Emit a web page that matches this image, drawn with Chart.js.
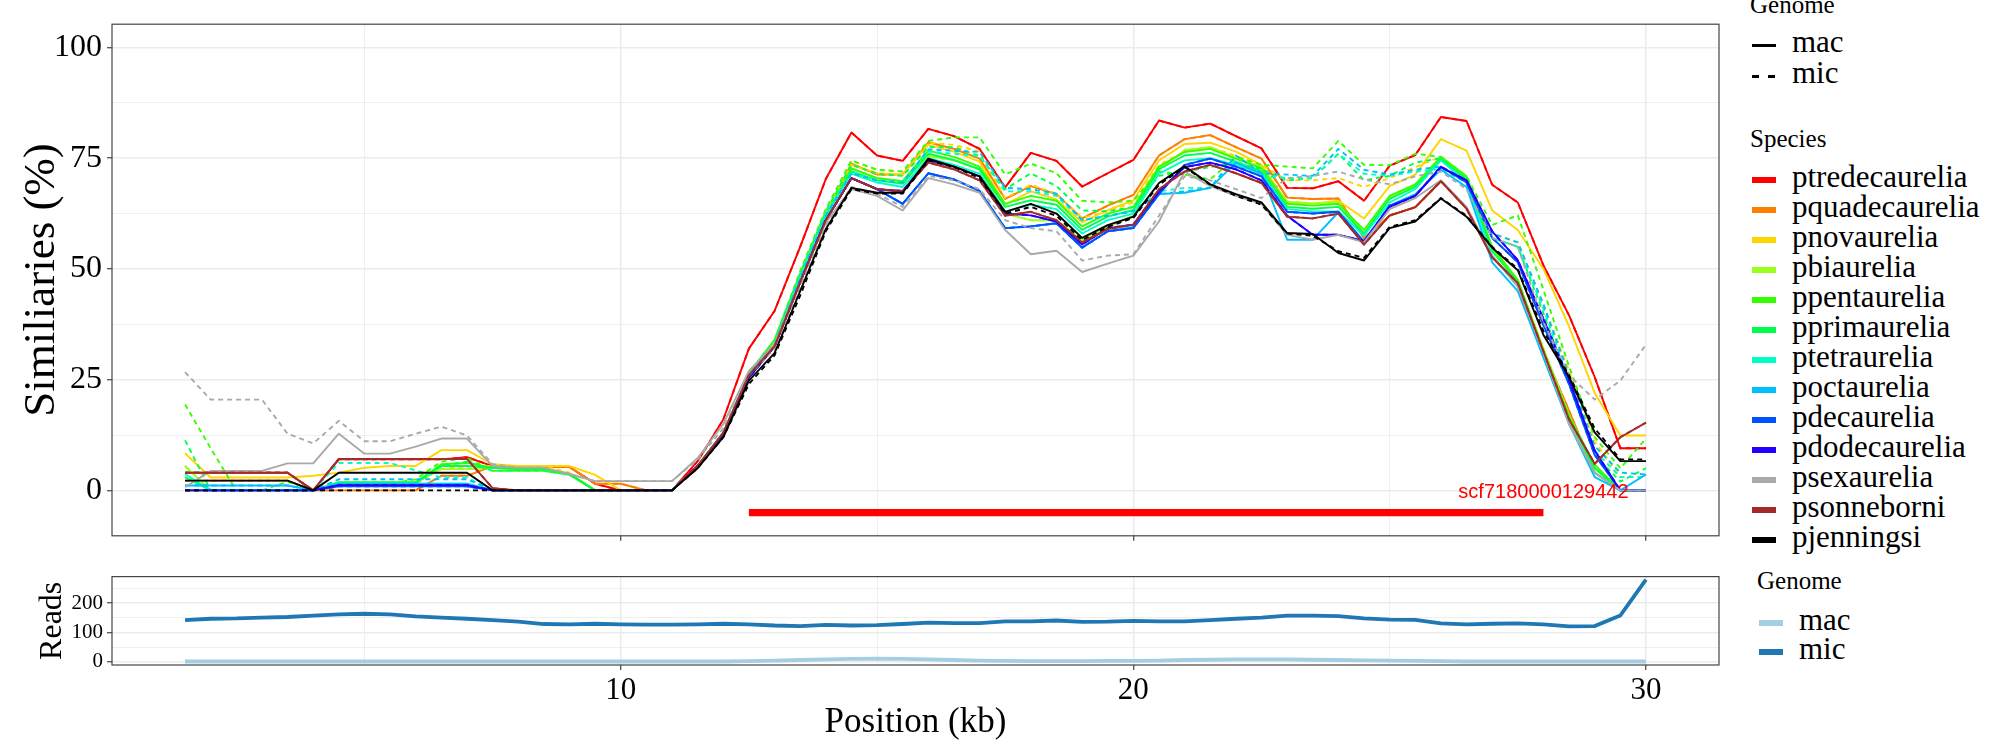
<!DOCTYPE html>
<html><head><meta charset="utf-8">
<script src="https://cdn.jsdelivr.net/npm/chart.js@4.4.1/dist/chart.umd.min.js"></script>
<style>
html,body{margin:0;padding:0;background:#fff;}
#wrap{position:relative;width:2000px;height:750px;overflow:hidden;background:#fff;font-family:'Liberation Serif','Times New Roman',serif;}
#top{position:absolute;left:0;top:0;}
#bot{position:absolute;left:0;top:560px;}
.lg{position:absolute;white-space:nowrap;line-height:1;color:#000;}
.key{position:absolute;}
</style></head><body>
<div id="wrap">
<canvas id="top" width="1740" height="560"></canvas>
<canvas id="bot" width="1740" height="190"></canvas>
<div id="legend"></div>
</div>
<script>
// ---------------- DATA ----------------
const positions = [1.5,2,2.5,3,3.5,4,4.5,5,5.5,6,6.5,7,7.5,8,8.5,9,9.5,10,10.5,11,
  11.5,12,12.5,13,13.5,14,14.5,15,15.5,16,16.5,17,17.5,18,18.5,19,19.5,20,20.5,21,
  21.5,22,22.5,23,23.5,24,24.5,25,25.5,26,26.5,27,27.5,28,28.5,29,29.5,30];

const species = ['ptredecaurelia','pquadecaurelia','pnovaurelia','pbiaurelia','ppentaurelia','pprimaurelia',
  'ptetraurelia','poctaurelia','pdecaurelia','pdodecaurelia','psexaurelia','psonneborni','pjenningsi'];
const speciesColors = ['#FF0000','#FF7F00','#FFD500','#9CFF1E','#33FF00','#00FF4C',
  '#00FFC4','#00BFFF','#0050FF','#2200FF','#A9A9A9','#A52A2A','#000000'];
const genomes = ['mac','mic'];

const ptredecaurelia_mac = [4,4,4,4,4,0,7,7,7,7, 7,7.5,5.5,5.3,5.3,5.3,1.5,0,0,0,
  6.6,16,32,40.5,55,70.3,80.8,75.6,74.4,81.6, 80,77.1,68.4,76.2,74.4,68.6,71.6,74.6,83.5,81.9,
  82.8,80,77.2,68.3,68.2,69.8,65.4,73.3,75.7,84.3, 83.4,69,65,50.8,39.5,25.6,9.5,9.5];
const pquadecaurelia_mac = [2.2,2.2,2.2,2.2,2.2,0,0,0,0,0, 3.3,3.3,5.5,5.3,5.3,5.3,1.5,1.5,0,0,
  5.5,13,26,33,48,62,73.8,71.3,71.3,78.6, 77.1,74.9,65.8,68.7,66.9,61.4,64.3,66.7,75.6,79.3,
  80.2,77.5,74.9,66.1,65.8,65.9,57,62,64,69.8, 63.6,52.6,46.8,31.4,18,4,0,0];
const pnovaurelia_mac = [8.4,2.9,2.9,2.9,2.9,3.3,4,5.1,5.5,5.5, 9.1,9.1,5.9,5.5,5.5,5.5,3.5,0,0,0,
  5.5,13,26,33,48,62,73.5,71.6,71.3,78, 76.5,74.2,64.5,67.5,65.7,60.5,63.3,65.5,74.5,78.2,
  78.5,76.5,73.5,65,64.7,65.4,61.4,68.7,71.3,79.3, 76.7,63.2,58.8,50,37,22,12.4,12.4];
const pbiaurelia_mac = [5.5,0,0,0,0,0,1.8,1.8,1.8,1.8, 4.8,4.8,5.1,4.8,4.8,3.7,0,0,0,0,
  5.5,13,26,33,48,62,72.7,70.5,69.8,75.5, 74.5,72.5,62.5,61,61,56.5,59.5,62,72.5,76.8,
  77.5,75,73,65.2,64.8,65,58,66,69,75.3, 70,55,47.5,32,17,5,0,0];
const ppentaurelia_mac = [0,0,0,0,0,0,1.8,1.8,1.8,1.8, 5.9,6.2,5.1,4.8,4.8,3.7,0,0,0,0,
  5.5,13,26,33,48,62,72.7,70.5,69.8,76.7, 75.3,73.1,64.7,66.5,65.4,59.6,62.5,64,73.1,76.4,
  77.1,74.9,72.7,64.7,64.3,64.7,58.8,66.5,69.1,75.3, 70.9,54.8,47.5,31.4,16.8,5.8,0,0];
const pprimaurelia_mac = [3,0,0,0,0,0,1.8,1.8,1.8,1.8, 5.5,5.5,5.1,4.8,4.8,3.7,0,0,0,0,
  5.5,13,26,33,48,62,72,70,69.2,76, 74.6,72.5,64,65.5,64.5,58.8,61.8,63.3,72.5,75.6,
  76.2,74.2,72,64,63.6,64,58,65.8,68.5,74.8, 70.3,54,47,31,16,5,0,0];
const ptetraurelia_mac = [3.7,0,0,0,0,0,1.5,1.5,1.5,1.5, 1.5,1.5,0,0,0,0,0,0,0,0,
  5.5,13,26,33,48,62,71.5,69.5,68.5,75, 73.5,71.5,63,64.5,63.5,58,61,62.5,71.5,74.5,
  75,73.5,71.5,63.5,63,63,57.5,65,68,74.5, 69.5,53,46,30,15,4,0,0];
const poctaurelia_mac = [1.1,1.1,1.1,1.1,1.1,0,1.5,1.5,1.5,1.5, 1.5,1.5,0,0,0,0,0,0,0,0,
  5.5,12.5,25.5,32.5,47,61,70.5,68,64.7,71.6, 70.2,67.6,59.2,59.6,60.3,54.8,58.5,59.5,66.9,67.2,
  68.3,74,71.5,56.6,56.6,62.8,56.3,64.3,66.9,72.4, 68.5,51.5,45,30,15,3,0,3.6];
const pdecaurelia_mac = [0,0,0,0,0,0,0.9,0.9,0.9,0.9, 0.9,0.9,0,0,0,0,0,0,0,0,
  5.5,12.5,25.5,32.5,47,61,70.5,68,64.7,71.6, 70.2,67.6,59.2,59.6,60.3,54.8,58.5,59.2,66.9,73.5,
  74.9,73.1,70.9,62.9,62.5,62.9,56,64.3,66.5,73.1, 69.5,57,51.5,37.3,24,8,0,0];
const pdodecaurelia_mac = [0,0,0,0,0,0,1.2,1.2,1.2,1.2, 1.2,1.2,0,0,0,0,0,0,0,0,
  5.5,12.5,25.5,32.5,47,61,70.5,68,67.6,74.5, 73.1,70.9,62.5,62.1,60.7,55.5,59.2,60,67.5,73,
  74,72.5,70,62,57.7,57.7,56.3,64,66.5,73, 70,58.5,52,38.7,25,9,0,0];
const psexaurelia_mac = [0.7,4.4,4.4,4.4,6.1,6.1,12.8,8.3,8.3,9.9, 11.7,11.7,5.5,5.1,5.1,3.7,2.1,2.1,2.1,2.1,
  7.3,15,27,33,47,60.5,68,66.5,63.2,70.5, 69.1,67.2,58.8,53.3,54.1,49.3,51.2,53,60.7,72,
  68.7,66.5,64.7,57.7,56.6,57.7,56,63.5,66,70, 64,53,46,31,15,4,0,0];
const psonneborni_mac = [4,4,4,4,4,0,7.1,7.1,7.1,7.1, 7.1,7.1,0.5,0,0,0,0,0,0,0,
  5.5,13,26,32.5,47,61,70.5,68,67.5,74, 72.5,70,62,62.9,61,56,59,60,68,72,
  73.5,71.6,69.4,61.8,61.4,62.5,55.5,62.1,63.9,69.8, 63.6,52.6,46.8,31.4,16,6,12,15.3];
const pjenningsi_mac = [2.2,2.2,2.2,2.2,2.2,0,4,4,4,4, 4,4,0,0,0,0,0,0,0,0,
  5,12,24.8,31,45,59,68.3,67.2,67.2,74.9, 73.1,70.9,62.9,64.7,62.5,57,59.9,61.8,69.4,73.2,
  69.1,66.9,65,58.1,57.9,53.6,51.9,59.2,60.7,65.9, 61.8,54.8,49.7,35.1,25.6,13.1,6.6,6.6];

const pnovaurelia_mic = [5.5,0,0,0,0,0,1.5,1.5,1.5,1.5, 4.8,5.5,5.5,5.5,5.5,4,0,0,0,0,
  5.5,13,26.5,33.5,49,63,74.4,72.4,72,78.5, 78,76.5,66,69,67,61.5,63,65,73.5,76.5,
  77.5,75.5,73.5,70,70,70.5,68.5,70.5,73,75.3, 70.5,58,56,42,27,11,3,3];
const ppentaurelia_mic = [19.4,9.5,0,0,2,0,1.5,1.5,1.5,2.5, 6.5,7.3,4.4,4.4,4.4,3.5,0,0,0,0,
  5.5,13,26.5,34,49.5,63.5,74.5,72.4,72,78.9, 79.7,79.7,71.3,73.8,71.6,65.4,65,65.4,72,71.3,
  70.2,75.3,73.5,73.1,72.7,78.9,73.5,73.4,76,75.3, 70.9,59.9,62.1,45.3,28,12,5,11.7];
const pprimaurelia_mic = [11.3,0,0,0,0,0,1.5,1.5,1.5,1.5, 5.5,6.5,4.4,4.4,4.4,3.5,0,0,0,0,
  5.5,13,26.5,34,49,63,73.5,71.5,71,77.5, 77.5,75.5,68,71.6,68.7,63.2,63,64,71,72,
  73,74,72.5,70,70.5,76,70,71,74,75, 70,57,55,40,24,8,2,5];
const ptetraurelia_mic = [4,4,4,4,4,0,6.2,6.2,6.2,4.5, 2.9,2.9,0,0,0,0,0,0,0,0,
  5.5,13,26,33,48.5,62.5,72,70,69.5,76.5, 76,75.5,67.5,67.5,66.5,61,62,63,67.5,68.3,
  68.3,74.5,71,70.5,70.5,76,71.5,71,72,72.5, 69.5,57,55,41,25,9,3,3];
const poctaurelia_mic = [1.1,1.1,1.1,1.1,1.1,0,2.5,2.5,2.5,2.5, 2.5,2.5,0,0,0,0,0,0,0,0,
  5.5,13,26,33,48,62,71.6,70,69.5,77, 76.7,76.4,68.3,68,67,61,62,63,66.9,67.5,
  68.3,75.6,71.6,71.3,71,77.1,72.4,71.3,72.4,73.1, 70,58,56,42,26,10,4,3.6];
const psexaurelia_mic = [26.7,20.5,20.5,20.5,12.8,10.6,15.7,11.1,11.1,12.8, 14.4,12.4,5.9,5.1,5.1,3.7,2.1,2.1,2.1,2.1,
  7,14,26,32,46,60,68.5,67,64,71, 70,68,61,59.2,58.5,51.9,53,53.3,62,70.9,
  70,68,66,70.5,71,72,70.2,69.1,70.9,72, 68,57,55,38,26,20.5,24.8,32.9];
const pjenningsi_mic = [0,0,0,0,0,0,0,0,0,0, 0,0,0,0,0,0,0,0,0,0,
  5,12,24,30.5,44,58.5,68,67,67,74.5, 73,70.5,62.5,64,62,56.5,59.5,61.5,69,73,
  69,66.5,64.5,58,57.5,54,52.5,59.5,61,66, 62,55,50,36,26,14,7,7];
// mic tracks that coincide with their mac track
const ptredecaurelia_mic = ptredecaurelia_mac;
const pquadecaurelia_mic = pquadecaurelia_mac;
const pbiaurelia_mic = pbiaurelia_mac;
const pdecaurelia_mic = pdecaurelia_mac;
const pdodecaurelia_mic = pdodecaurelia_mac;
const psonneborni_mic = psonneborni_mac;

const macValues = [ptredecaurelia_mac,pquadecaurelia_mac,pnovaurelia_mac,pbiaurelia_mac,ppentaurelia_mac,pprimaurelia_mac,
  ptetraurelia_mac,poctaurelia_mac,pdecaurelia_mac,pdodecaurelia_mac,psexaurelia_mac,psonneborni_mac,pjenningsi_mac];
const micValues = [ptredecaurelia_mic,pquadecaurelia_mic,pnovaurelia_mic,pbiaurelia_mic,ppentaurelia_mic,pprimaurelia_mic,
  ptetraurelia_mic,poctaurelia_mic,pdecaurelia_mic,pdodecaurelia_mic,psexaurelia_mic,psonneborni_mic,pjenningsi_mic];

const reads_mac = [1,1,1,1,1,1,1,1,1,1, 1,1,1,1,1,1,1,1,1,1,
  1,1,2,4,6,8,10,11,10,8, 6,4,3,2,2,2,3,3,4,6,
  7,8,8,8,7,6,5,4,3,2, 1,1,1,1,1,1,1,1];
const reads_mic = [142,147,148,151,153,158,162,164,162,155, 151,147,142,137,129,128,130,128,127,127,
  128,130,128,124,122,126,124,125,129,134, 132,132,138,138,141,136,137,140,138,138,
  142,147,151,158,158,156,148,144,143,131, 128,130,131,128,121,122,158,281];
const readsColors = ['#A6CEE3','#1F78B4'];

const contigName = 'scf7180000129442';
const contigStart = 12.5, contigEnd = 28, contigY = -5;
const contigLabelX = 28, contigLabelY = 0;

const simTicks = [0,25,50,75,100];
const simMinor = [12.5,37.5,62.5,87.5];
const posTicks = [10,20,30];
const posMinor = [5,15,25];
const readTicks = [0,100,200];
const readMinor = [50,150,250];

// ---------------- CHART ----------------
const SERIF = "'Liberation Serif','Times New Roman',serif";
const toXY = (xs, ys) => xs.map((x, i) => ({x: x, y: ys[i]}));
const isMajor = (v, majors) => majors.some(m => Math.abs(m - v) < 1e-9);

function gridOpts(majors) {
  return {
    color: c => '#EBEBEB',
    lineWidth: c => (c.tick && isMajor(c.tick.value, majors)) ? 1.5 : 0.8,
    tickColor: c => (c.tick && isMajor(c.tick.value, majors)) ? '#333333' : 'rgba(0,0,0,0)',
    tickLength: 5, tickWidth: 1.1, drawTicks: true, drawOnChartArea: true
  };
}
function setTicks(all) {
  return s => { s.ticks = all.slice().sort((a,b)=>a-b).map(v => ({value: v})); };
}
const borderPlugin = {
  id: 'panelBorder',
  afterDraw(chart) {
    const a = chart.chartArea, ctx = chart.ctx;
    ctx.save();
    ctx.strokeStyle = '#444444'; ctx.lineWidth = 1.2;
    ctx.strokeRect(a.left, a.top, a.right - a.left, a.bottom - a.top);
    ctx.restore();
  }
};
const labelPlugin = {
  id: 'contigLabel',
  afterDatasetsDraw(chart) {
    const ctx = chart.ctx, x = chart.scales.x, y = chart.scales.y;
    ctx.save();
    ctx.font = "20px 'Liberation Sans', Arial, sans-serif";
    ctx.fillStyle = '#FF0000'; ctx.textAlign = 'center'; ctx.textBaseline = 'middle';
    ctx.fillText(contigName, x.getPixelForValue(contigLabelX), y.getPixelForValue(contigLabelY) + 2);
    ctx.restore();
  }
};

const lineDatasets = [];
species.forEach((sp, k) => {
  lineDatasets.push({label: sp + ' mac', data: toXY(positions, macValues[k]), borderColor: speciesColors[k],
    borderWidth: 1.9, pointRadius: 0, tension: 0, fill: false, borderJoinStyle: 'round'});
  lineDatasets.push({label: sp + ' mic', data: toXY(positions, micValues[k]), borderColor: speciesColors[k],
    borderWidth: 1.9, borderDash: [5, 4], pointRadius: 0, tension: 0, fill: false, borderJoinStyle: 'round'});
});
lineDatasets.reverse(); // Chart.js paints dataset 0 last
lineDatasets.unshift({label: 'contig', data: [{x: contigStart, y: contigY}, {x: contigEnd, y: contigY}],
  borderColor: '#FF0000', borderWidth: 7.3, borderCapStyle: 'butt', pointRadius: 0, fill: false});

new Chart(document.getElementById('top'), {
  type: 'line',
  data: {datasets: lineDatasets},
  options: {
    responsive: false, animation: false, devicePixelRatio: 1,
    layout: {padding: {left: 0, right: 21, top: 10, bottom: 0}},
    plugins: {legend: {display: false}, tooltip: {enabled: false}},
    scales: {
      x: {type: 'linear', min: 0.075, max: 31.425,
        afterBuildTicks: setTicks(posTicks.concat(posMinor)),
        afterFit: s => { s.height = 23; },
        grid: gridOpts(posTicks), border: {display: false},
        ticks: {display: false, autoSkip: false}},
      y: {type: 'linear', min: -10.25, max: 105.25,
        afterBuildTicks: setTicks(simTicks.concat(simMinor)),
        afterFit: s => { s.width = 112; },
        grid: gridOpts(simTicks), border: {display: false},
        ticks: {autoSkip: false, padding: 5, color: '#000', font: {family: SERIF, size: 32},
          callback: v => isMajor(v, simTicks) ? String(v) : ''},
        title: {display: true, text: 'Similiaries (%)', color: '#000', font: {family: SERIF, size: 45},
          padding: {top: 15, bottom: 0}}}
    }
  },
  plugins: [borderPlugin, labelPlugin]
});

new Chart(document.getElementById('bot'), {
  type: 'line',
  data: {datasets: [
    {label: 'mic', data: toXY(positions, reads_mic), borderColor: readsColors[1], borderWidth: 3.8, pointRadius: 0, tension: 0, fill: false},
    {label: 'mac', data: toXY(positions, reads_mac), borderColor: readsColors[0], borderWidth: 3.8, pointRadius: 0, tension: 0, fill: false}
  ]},
  options: {
    responsive: false, animation: false, devicePixelRatio: 1,
    layout: {padding: {left: 0, right: 21, top: 12, bottom: 0}},
    plugins: {legend: {display: false}, tooltip: {enabled: false}},
    scales: {
      x: {type: 'linear', min: 0.075, max: 31.425,
        afterBuildTicks: setTicks(posTicks.concat(posMinor)),
        afterFit: s => { s.height = 85; },
        grid: gridOpts(posTicks), border: {display: false},
        ticks: {autoSkip: false, maxRotation: 0, padding: 2, color: '#000', font: {family: SERIF, size: 31},
          callback: v => isMajor(v, posTicks) ? String(v) : ''},
        title: {display: true, text: 'Position (kb)', color: '#000', font: {family: SERIF, size: 35},
          padding: {top: 0, bottom: 6}}},
      y: {type: 'linear', min: -11, max: 291,
        afterBuildTicks: setTicks(readTicks.concat(readMinor)),
        afterFit: s => { s.width = 112; },
        grid: gridOpts(readTicks), border: {display: false},
        ticks: {autoSkip: false, padding: 4, color: '#000', font: {family: SERIF, size: 21},
          callback: v => isMajor(v, readTicks) ? String(v) : ''},
        title: {display: true, text: 'Reads', color: '#000', font: {family: SERIF, size: 32},
          padding: {top: 33, bottom: 0}}}
    }
  },
  plugins: [borderPlugin]
});

// ---------------- LEGEND ----------------
const lg = document.getElementById('legend');
function addText(txt, x, cy, size) {
  const d = document.createElement('div');
  d.className = 'lg'; d.textContent = txt;
  d.style.left = x + 'px'; d.style.top = (cy - 0.6 * size) + 'px'; d.style.fontSize = size + 'px';
  lg.appendChild(d);
}
function addKey(x, cy, w, h, color) {
  const d = document.createElement('div');
  d.className = 'key';
  d.style.left = x + 'px'; d.style.top = (cy - h / 2) + 'px';
  d.style.width = w + 'px'; d.style.height = h + 'px'; d.style.background = color;
  lg.appendChild(d);
}
addText('Genome', 1750, 7, 25);
addKey(1752, 45, 24, 3, '#000'); addText(genomes[0], 1792, 45, 31);
addKey(1752, 76, 7, 3, '#000'); addKey(1768, 76, 7, 3, '#000'); addText(genomes[1], 1792, 76, 31);
addText('Species', 1750, 141, 25);
species.forEach((sp, k) => {
  const cy = 180 + 30 * k;
  addKey(1752, cy, 24, 6.5, speciesColors[k]);
  addText(sp, 1792, cy, 31);
});
addText('Genome', 1757, 583, 25);
addKey(1759, 623, 24, 6.5, readsColors[0]); addText(genomes[0], 1799, 623, 31);
addKey(1759, 652, 24, 6.5, readsColors[1]); addText(genomes[1], 1799, 652, 31);
</script>
</body></html>
